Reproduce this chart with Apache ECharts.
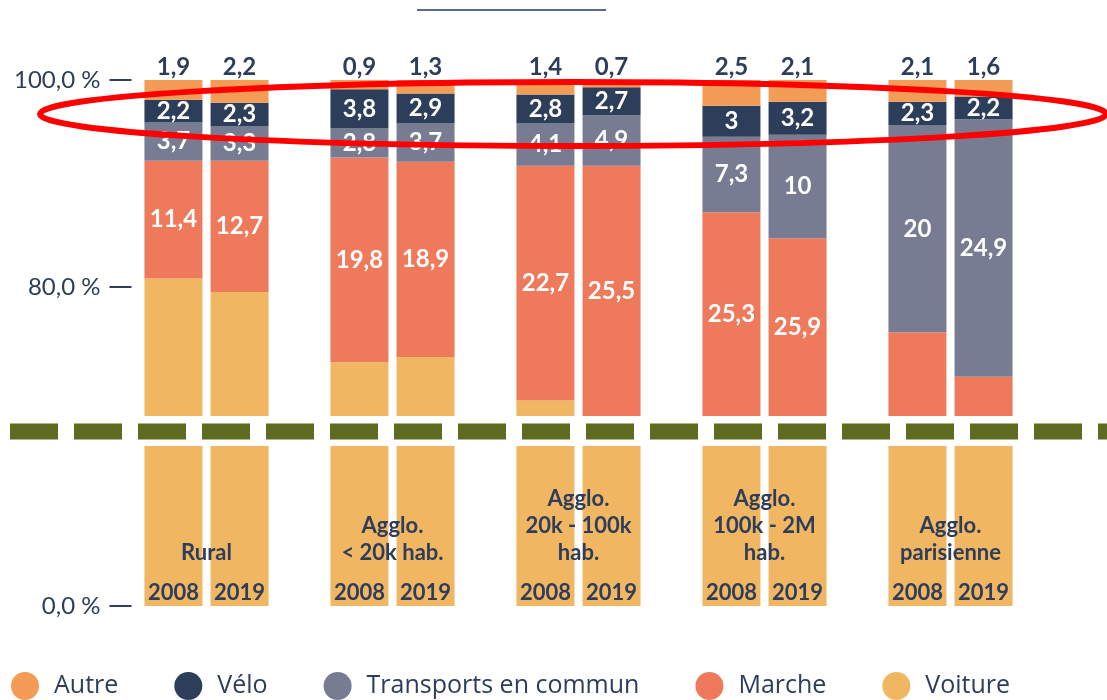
<!DOCTYPE html>
<html>
<head>
<meta charset="utf-8">
<title>Parts modales</title>
<script src="https://cdn.jsdelivr.net/npm/echarts@6/dist/echarts.min.js"></script>
<style>
  html, body { margin: 0; padding: 0; background: #fff; }
  #chart { width: 1107px; height: 700px; }
</style>
</head>
<body>
<div id="chart"></div>
<script>
  // catégories d'agglomération
  const categories = ['Rural', 'Agglo.\n< 20k hab.', 'Agglo.\n20k - 100k\nhab.', 'Agglo.\n100k - 2M\nhab.', 'Agglo.\nparisienne']
  const years = ['2008', '2019']
  const modes = ['Autre', 'Vélo', 'Transports en commun', 'Marche', 'Voiture']

  // parts modales 2008 (%)
  const autre2008 = [1.9, 0.9, 1.4, 2.5, 2.1]
  const velo2008 = [2.2, 3.8, 2.8, 3, 2.3]
  const tc2008 = [3.7, 2.8, 4.1, 7.3, 20]
  const marche2008 = [11.4, 19.8, 22.7, 25.3, 33.8]
  const voiture2008 = [80.8, 72.7, 69.0, 61.9, 41.8]

  // parts modales 2019 (%)
  const autre2019 = [2.2, 1.3, 0.7, 2.1, 1.6]
  const velo2019 = [2.3, 2.9, 2.7, 3.2, 2.2]
  const tc2019 = [3.3, 3.7, 4.9, 10, 24.9]
  const marche2019 = [12.7, 18.9, 25.5, 25.9, 34.5]
  const voiture2019 = [79.5, 73.2, 66.2, 58.8, 36.8]

  // marche non étiquetée (agglo parisienne)
  const marcheUnlabeled = [4]

  // graduations
  const yTicksTop = [80, 100]
  const yTicksBottom = [0]

  const colors = {
    'Autre': '#f39c55',
    'Vélo': '#2d3e5a',
    'Transports en commun': '#777c93',
    'Marche': '#ef7a5b',
    'Voiture': '#f0b662'
  }
  const navy = '#2d3d5a'
  const font = 'Lato'

  const fmt = v => String(v).replace('.', ',')
  const pct = v => v.toFixed(1).replace('.', ',') + ' %'

  const byYear = {
    '2008': { 'Autre': autre2008, 'Vélo': velo2008, 'Transports en commun': tc2008, 'Marche': marche2008, 'Voiture': voiture2008 },
    '2019': { 'Autre': autre2019, 'Vélo': velo2019, 'Transports en commun': tc2019, 'Marche': marche2019, 'Voiture': voiture2019 }
  }

  function labelFor(mode) {
    if (mode === 'Voiture') return { show: false }
    if (mode === 'Autre') {
      return { show: true, position: 'top', distance: 1, color: navy, fontSize: 24, fontWeight: 'bold', fontFamily: font, formatter: p => fmt(p.value) }
    }
    return { show: true, position: 'inside', color: '#fff', fontSize: 24, fontWeight: 'bold', fontFamily: font, formatter: p => fmt(p.value) }
  }

  // partie haute (67,5 % -> 100 %), empilée de la voiture vers "autre"
  const series = []
  years.forEach(year => {
    modes.slice().reverse().forEach(mode => {
      series.push({
        name: mode,
        type: 'bar',
        stack: 'haut' + year,
        xAxisIndex: 0,
        yAxisIndex: 0,
        barWidth: 58,
        barGap: '14%',
        clip: true,
        itemStyle: { color: colors[mode] },
        label: labelFor(mode),
        data: byYear[year][mode].map((v, i) =>
          mode === 'Marche' && marcheUnlabeled.includes(i) ? { value: v, label: { show: false } } : v)
      })
    })
  })

  // partie basse (axe compressé), voiture seule
  years.forEach(year => {
    series.push({
      name: 'Voiture',
      type: 'bar',
      stack: 'bas' + year,
      xAxisIndex: 1,
      yAxisIndex: 1,
      barWidth: 58,
      barGap: '14%',
      clip: true,
      itemStyle: { color: colors['Voiture'] },
      label: {
        show: true,
        position: 'insideBottom',
        distance: 2,
        color: navy,
        fontSize: 22,
        fontWeight: 'bold',
        fontFamily: font,
        formatter: () => year
      },
      data: byYear[year]['Voiture']
    })
  })

  const yAxisCommon = {
    type: 'value',
    position: 'left',
    offset: -18,
    splitLine: { show: false },
    axisLine: { show: false },
    axisTick: { show: true, length: 22, lineStyle: { color: navy, width: 2 } },
    axisLabel: { color: navy, fontSize: 24, fontFamily: font, margin: 31, formatter: pct }
  }

  const chart = echarts.init(document.getElementById('chart'))
  chart.setOption({
    animation: false,
    textStyle: { fontFamily: font },
    grid: [
      { left: 113.5, right: 63.5, top: 80, height: 336 },
      { left: 113.5, right: 63.5, top: 446, height: 160 }
    ],
    xAxis: [
      { type: 'category', gridIndex: 0, data: categories, show: false },
      {
        type: 'category',
        gridIndex: 1,
        data: categories,
        z: 10,
        axisLine: { show: false },
        axisTick: { show: false },
        axisLabel: {
          inside: true,
          interval: 0,
          margin: 40,
          verticalAlign: 'bottom',
          color: navy,
          fontSize: 22,
          fontWeight: 'bold',
          fontFamily: font,
          lineHeight: 27
        }
      }
    ],
    yAxis: [
      Object.assign({}, yAxisCommon, {
        gridIndex: 0, min: 67.5, max: 100,
        axisTick: Object.assign({}, yAxisCommon.axisTick, { customValues: yTicksTop }),
        axisLabel: Object.assign({}, yAxisCommon.axisLabel, { customValues: yTicksTop })
      }),
      Object.assign({}, yAxisCommon, {
        gridIndex: 1, min: 0, max: 35,
        axisTick: Object.assign({}, yAxisCommon.axisTick, { customValues: yTicksBottom }),
        axisLabel: Object.assign({}, yAxisCommon.axisLabel, { customValues: yTicksBottom })
      })
    ],
    legend: {
      data: modes,
      left: 11,
      top: 672,
      padding: 0,
      icon: 'circle',
      itemWidth: 28,
      itemHeight: 28,
      itemGap: 56,
      textStyle: { color: navy, fontSize: 25, fontFamily: 'Open Sans', padding: [0, 0, 0, 10] }
    },
    graphic: [
      // rupture d'axe
      {
        type: 'line',
        shape: { x1: 10, y1: 431.5, x2: 1107, y2: 431.5 },
        style: { stroke: '#5e6b21', lineWidth: 16, lineDash: [48, 16] },
        z: 50
      },
      // trait de titre (coupé)
      {
        type: 'line',
        shape: { x1: 417, y1: 10, x2: 606, y2: 10 },
        style: { stroke: '#5b6888', lineWidth: 2 },
        z: 50
      },
      // annotation rouge autour de la ligne "Vélo"
      {
        type: 'ellipse',
        shape: { cx: 573, cy: 114, rx: 533, ry: 32 },
        style: { fill: 'none', stroke: '#ff0000', lineWidth: 6 },
        z: 100
      }
    ],
    series: series
  })
</script>
</body>
</html>
